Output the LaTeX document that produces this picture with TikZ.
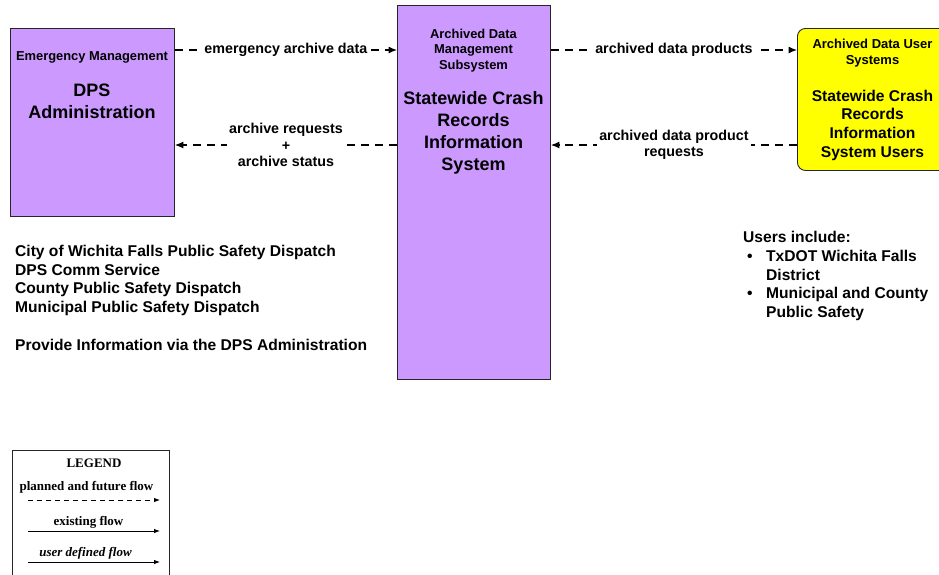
\documentclass[tikz,border=0pt]{standalone}
\usepackage{fontspec}
\setmainfont{Liberation Sans}
\newfontfamily\legendfont{Liberation Serif}
\usetikzlibrary{arrows.meta,positioning}

\definecolor{archpurple}{HTML}{CC99FF}
\definecolor{useryellow}{HTML}{FFFF00}

\tikzset{
  sysbox/.style={draw=black!85, fill=archpurple, line width=0.9pt, inner sep=0pt},
  userbox/.style={draw=black!85, fill=useryellow, line width=0.9pt, inner sep=0pt, rounded corners=8pt},
  classtext/.style={font=\fontsize{12.9}{15.5}\selectfont\bfseries, align=center, inner sep=0pt, anchor=north},
  nametext/.style={font=\fontsize{18}{22}\selectfont\bfseries, align=center, inner sep=0pt, anchor=north},
  flow/.style={line width=1.1pt, dash pattern=on 8pt off 6pt, -{Latex[length=8.5pt,width=7pt]}},
  flowlabel/.style={fill=white, font=\fontsize{14.3}{16.5}\selectfont\bfseries, align=center, inner sep=2pt},
  notetext/.style={font=\fontsize{15.6}{18.7}\selectfont\bfseries, align=left, inner sep=0pt, anchor=north west},
  legendtext/.style={font=\legendfont\fontsize{13}{15}\selectfont\bfseries, inner sep=0pt},
  legendflow/.style={line width=0.9pt, -{Latex[length=6pt,width=4.5pt]}}
}

\begin{document}
\begin{tikzpicture}[x=1pt, y=-1pt]

  % --- 描画範囲 ---
  \useasboundingbox (0,0) rectangle (939,574);
  \clip (0,0) rectangle (939,574);

  % --- 矢印の高さ ---
  \coordinate (rowA) at (0,50);
  \coordinate (rowB) at (0,145);

  % 1. ボックス
  \node[sysbox, minimum width=164pt, minimum height=188pt, anchor=north west] (dps) at (10,28) {};
  \node[sysbox, minimum width=153pt, minimum height=374pt, anchor=north west] (adms) at (397,5) {};
  \node[userbox, minimum width=151pt, minimum height=142pt, anchor=north west] (users) at (797,28) {};

  % 2. ボックス内のテキスト
  \node[classtext] (dpsclass) at (92,51) {Emergency Management};
  \node[nametext] (dpsname) at (92,83.5) {DPS\\Administration};

  \node[classtext] (admsclass) at (473.5,28.5) {Archived Data\\Management\\Subsystem};
  \node[nametext] (admsname) at (473.5,91.5) {Statewide Crash\\Records\\Information\\System};

  \node[classtext, font=\fontsize{13}{16}\selectfont\bfseries] (usersclass) at (872.5,38.5) {Archived Data User\\Systems};
  \node[nametext, font=\fontsize{15.6}{18.8}\selectfont\bfseries] (usersname) at (872.5,89.5)
    {Statewide Crash\\Records\\Information\\System Users};

  % 3. フロー（点線矢印）
  \draw[flow] (dps.east |- rowA) -- node[flowlabel] (flowA) {emergency archive data} (adms.west |- rowA);
  \draw[flow] (adms.west |- rowB) -- node[flowlabel] (flowB) {archive requests\\+\\archive status} (dps.east |- rowB);
  \draw[flow] (adms.east |- rowA) -- node[flowlabel] (flowC) {archived data products} (users.west |- rowA);
  \draw[flow] (users.west |- rowB) -- node[flowlabel] (flowD) {archived data product\\requests} (adms.east |- rowB);

  % 4. 注記
  \node[notetext] (centers) at (15,245) {City of Wichita Falls Public Safety Dispatch\\
    DPS Comm Service\\County Public Safety Dispatch\\Municipal Public Safety Dispatch\\[18.7pt]
    Provide Information via the DPS Administration};

  \node[notetext] (userlist) at (743,229.5) {%
    \begin{tabular}{@{}l@{}l@{}}
      \multicolumn{2}{@{}l@{}}{Users include:}\\
      \makebox[23pt][l]{\hspace{4pt}\textbullet} & TxDOT Wichita Falls\\
      & District\\
      \makebox[23pt][l]{\hspace{4pt}\textbullet} & Municipal and County\\
      & Public Safety
    \end{tabular}};

  % 5. 凡例
  \node[draw=black!85, line width=0.9pt, minimum width=157pt, minimum height=140pt, anchor=north west] (legend) at (12,450) {};
  \node[legendtext] (legendtitle) at (94,463) {LEGEND};
  \node[legendtext] (plannedlabel) at (86.5,487) {planned and future flow};
  \node[legendtext] (existinglabel) at (88.5,522) {existing flow};
  \node[legendtext, font=\legendfont\fontsize{13}{15}\selectfont\bfseries\itshape] (userlabel) at (85.5,553) {user defined flow};

  \coordinate (plannedL) at (28,500);  \coordinate (plannedR) at (160,500);
  \coordinate (existingL) at (28,531); \coordinate (existingR) at (160,531);
  \coordinate (userL) at (28,562);     \coordinate (userR) at (160,562);
  \draw[legendflow, dash pattern=on 5pt off 4pt] (plannedL) -- (plannedR);
  \draw[legendflow] (existingL) -- (existingR);
  \draw[legendflow] (userL) -- (userR);

\end{tikzpicture}
\end{document}
